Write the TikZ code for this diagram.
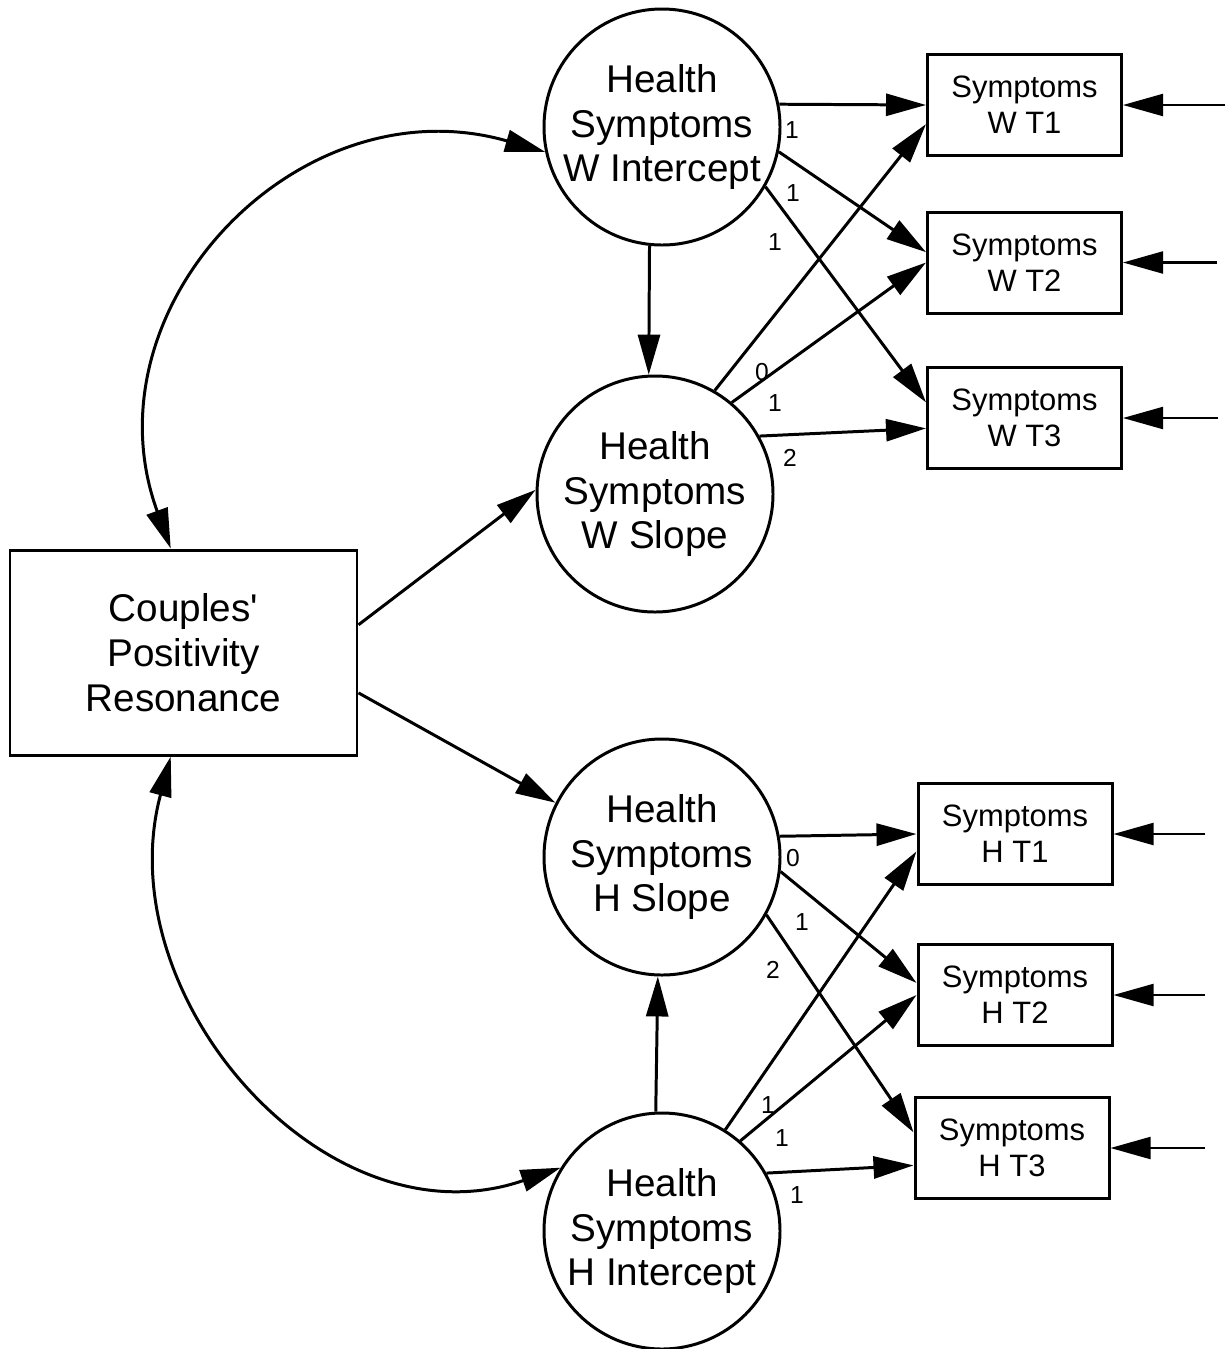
\documentclass[tikz,border=0pt]{standalone}
\usepackage{fontspec}
\setmainfont{Liberation Sans}
\usetikzlibrary{positioning, arrows.meta}

\begin{document}
\begin{tikzpicture}[line width=1.7pt, >={Triangle[length=0.8cm,width=0.44cm]}]
          \useasboundingbox (0,0) rectangle (24.56,-26.98);
          \begin{scope}[every node/.style={circle,draw,inner sep=0pt,minimum size=4.72cm,align=center,font=\fontsize{22}{25.6}\selectfont}]
            \node (wi) at (13.24, -2.54) {Health\\Symptoms\\W Intercept};
            \node (ws) at (13.10, -9.88) {Health\\Symptoms\\W Slope};
            \node (hs) at (13.24, -17.14) {Health\\Symptoms\\H Slope};
            \node (hi) at (13.24, -24.62) {Health\\Symptoms\\H Intercept};
          \end{scope}
          \node (cpr) [draw,minimum width=6.94cm,minimum height=4.10cm,align=center,font=\fontsize{22}{25.6}\selectfont] at (3.67, -13.05) {Couples\textquotesingle\\Positivity\\Resonance};
          \begin{scope}[every node/.style={draw,minimum width=3.88cm,minimum height=2.02cm,align=center,font=\fontsize{17.6}{20.5}\selectfont}]
            \node (wt1) at (20.49, -2.10) {Symptoms\\W T1};
            \node (wt2) at (20.49, -5.25) {Symptoms\\W T2};
            \node (wt3) at (20.49, -8.36) {Symptoms\\W T3};
            \node (ht1) at (20.30, -16.68) {Symptoms\\H T1};
            \node (ht2) at (20.30, -19.90) {Symptoms\\H T2};
            \node (ht3) at (20.24, -22.96) {Symptoms\\H T3};
          \end{scope}
          \coordinate (ew1) at (24.50, -2.10);
          \coordinate (ew2) at (24.34, -5.25);
          \coordinate (ew3) at (24.36, -8.36);
          \coordinate (eh1) at (24.10, -16.68);
          \coordinate (eh2) at (24.10, -19.90);
          \coordinate (eh3) at (24.10, -22.96);
          \begin{scope}[->]
            \path (cpr.9.6) edge (ws.178);
            \path (cpr.-13.8) edge (hs.153);
            \path (wi.-96) edge (ws.93.5);
            \path (hi.93) edge (hs.-92);
            \path (wi.11) edge (wt1.west);
            \path (wi.-12) edge (wt2.174);
            \path (wi.-30.7) edge (wt3.171);
            \path (ws.60) edge (wt1.191.6);
            \path (ws.50) edge (wt2.west);
            \path (ws.29.8) edge (wt3.186);
            \path (hs.10.6) edge (ht1.west);
            \path (hs.-7) edge (ht2.173);
            \path (hs.-29) edge (ht3.171);
            \path (hi.58.7) edge (ht1.190.6);
            \path (hi.49) edge (ht2.west);
            \path (hi.29) edge (ht3.190);
          \end{scope}
          \begin{scope}[<->]
            \path (wi.192) edge [out=164,in=110,looseness=1.2] (cpr.97.5);
            \path (cpr.-97.5) edge [out=255,in=199,looseness=1.12] (hi.148.6);
          \end{scope}
          \begin{scope}[->,line width=1.2pt]
            \path (ew1) edge (wt1.east);
            \path (ew2) edge (wt2.east);
            \path (ew3) edge (wt3.east);
            \path (eh1) edge (ht1.east);
            \path (eh2) edge (ht2.east);
            \path (eh3) edge (ht3.east);
          \end{scope}
          \begin{scope}[every node/.style={font=\fontsize{14}{16}\selectfont}]
            \node (lwi1) at (15.84, -2.60) {1};
            \node (lwi2) at (15.86, -3.86) {1};
            \node (lwi3) at (15.50, -4.84) {1};
            \node (lws1) at (15.24, -7.44) {0};
            \node (lws2) at (15.50, -8.06) {1};
            \node (lws3) at (15.80, -9.16) {2};
            \node (lhs1) at (15.86, -17.16) {0};
            \node (lhs2) at (16.04, -18.44) {1};
            \node (lhs3) at (15.46, -19.40) {2};
            \node (lhi1) at (15.36, -22.10) {1};
            \node (lhi2) at (15.64, -22.76) {1};
            \node (lhi3) at (15.94, -23.90) {1};
          \end{scope}
        \end{tikzpicture}
\end{document}
